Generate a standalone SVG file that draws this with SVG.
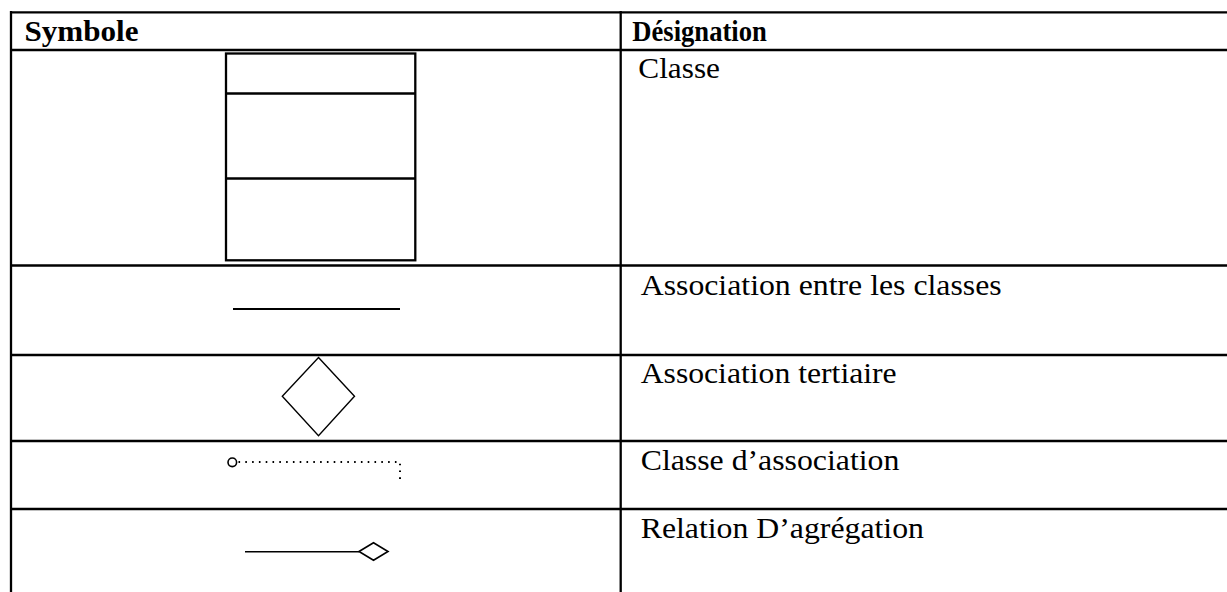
<svg xmlns="http://www.w3.org/2000/svg" width="1227" height="592" viewBox="0 0 1227 592">
  <style>
    .grid { stroke: #000; stroke-width: 2.3; fill: none; }
    .sym { stroke: #000; fill: none; }
    .head { font-family: "Liberation Serif", "Times New Roman", Times, serif; font-weight: bold; font-size: 29.5px; fill: #000; }
    .cell { font-family: "Liberation Serif", "Times New Roman", Times, serif; font-size: 29px; fill: #000; }
  </style>
  <rect width="1227" height="592" fill="#fff"/>

  <!-- table grid -->
  <g id="table" class="grid">
    <line x1="11" y1="12.3" x2="1227" y2="12.3"/>
    <line x1="11" y1="50" x2="1227" y2="50"/>
    <line x1="11" y1="265.5" x2="1227" y2="265.5"/>
    <line x1="11" y1="355" x2="1227" y2="355"/>
    <line x1="11" y1="441" x2="1227" y2="441"/>
    <line x1="11" y1="509" x2="1227" y2="509"/>
    <line x1="11" y1="11" x2="11" y2="592"/>
    <line x1="620.7" y1="11" x2="620.7" y2="592"/>
  </g>

  <!-- header -->
  <g id="header">
    <text class="head" x="24.5" y="41" textLength="114" lengthAdjust="spacingAndGlyphs">Symbole</text>
    <text class="head" x="632.3" y="41" textLength="134.5" lengthAdjust="spacingAndGlyphs">Désignation</text>
  </g>

  <!-- class symbol -->
  <g id="row-classe">
    <rect class="sym" x="226" y="53.5" width="189.3" height="206.8" stroke-width="2.3"/>
    <line class="sym" x1="226" y1="93.5" x2="415.3" y2="93.5" stroke-width="2.3"/>
    <line class="sym" x1="226" y1="178.5" x2="415.3" y2="178.5" stroke-width="2.3"/>
    <text class="cell" x="638.3" y="78.3" textLength="81.7" lengthAdjust="spacingAndGlyphs">Classe</text>
  </g>

  <!-- association -->
  <g id="row-association">
    <line class="sym" x1="233" y1="309" x2="400" y2="309" stroke-width="1.8"/>
    <text class="cell" x="640.7" y="295" textLength="361" lengthAdjust="spacingAndGlyphs">Association entre les classes</text>
  </g>

  <!-- n-ary association diamond -->
  <g id="row-tertiaire">
    <polygon class="sym" points="318.5,357.5 354.5,396.3 318.5,435.7 282.3,396.3" stroke-width="1.4"/>
    <text class="cell" x="640.7" y="383.3" textLength="256" lengthAdjust="spacingAndGlyphs">Association tertiaire</text>
  </g>

  <!-- association class link -->
  <g id="row-classe-association">
    <circle class="sym" cx="232.3" cy="462.3" r="4.3" stroke-width="1.6"/>
    <polyline class="sym" points="238.5,462 400,462 400,483" stroke-width="2" stroke-dasharray="1.6 5.2"/>
    <text class="cell" x="640.7" y="470" textLength="258.7" lengthAdjust="spacingAndGlyphs">Classe d’association</text>
  </g>

  <!-- aggregation -->
  <g id="row-agregation">
    <line class="sym" x1="245" y1="551.7" x2="359" y2="551.7" stroke-width="1.6"/>
    <polygon class="sym" points="359,551.5 373.5,542.8 388,551.5 373.5,560.2" stroke-width="1.6"/>
    <text class="cell" x="640.7" y="538.3" textLength="283.3" lengthAdjust="spacingAndGlyphs">Relation D’agrégation</text>
  </g>
</svg>
